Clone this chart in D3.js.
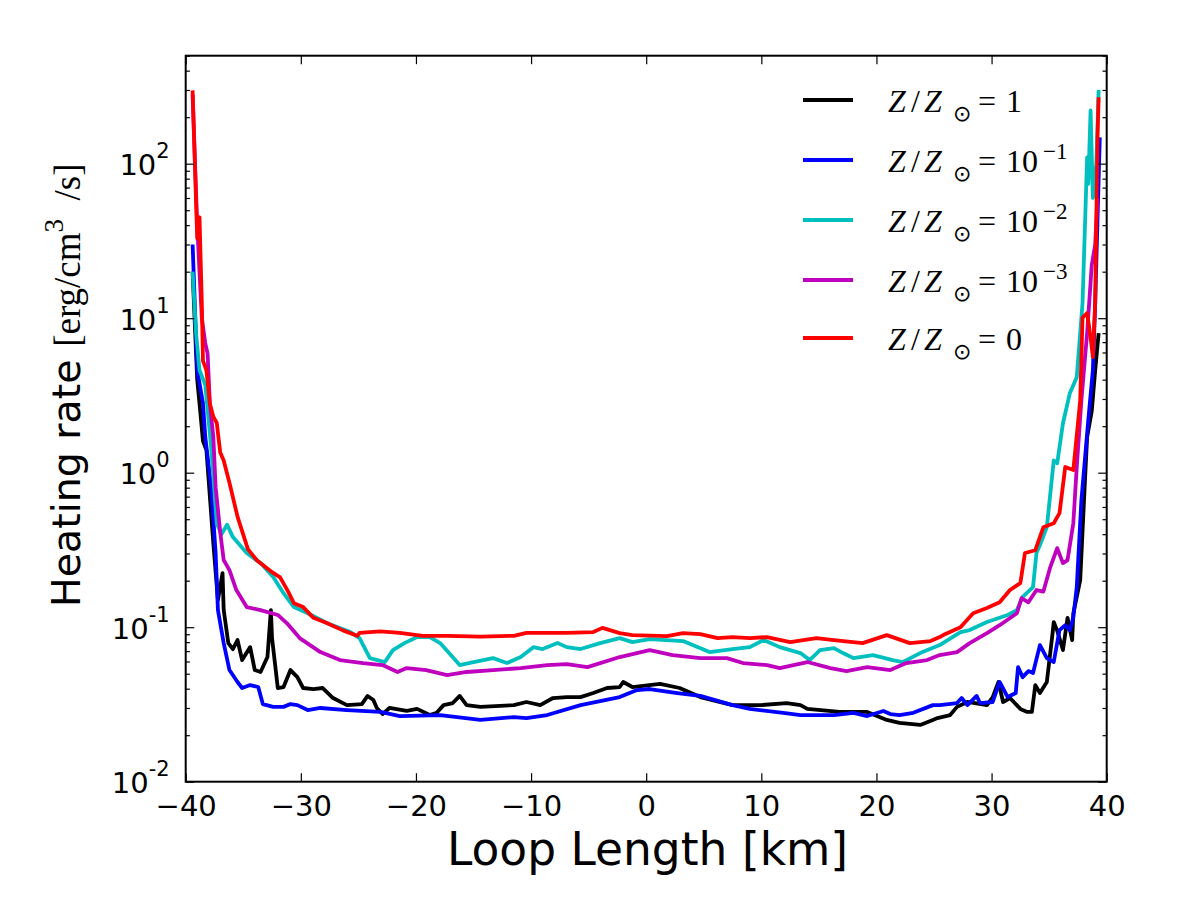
<!DOCTYPE html>
<html>
<head>
<meta charset="utf-8">
<script src="https://cdn.jsdelivr.net/npm/d3@7"></script>
<style>
  html, body { margin: 0; padding: 0; background: #fff; }
  svg { display: block; }
</style>
</head>
<body>
<div id="chart"></div>
<script>
// Heating rate along the loop, one series per metallicity.

const blackZ1 = [
  [-39.4, 20], [-39.0, 4], [-38.8, 2.8], [-38.5, 1.6], [-38.2, 1.4], [-37.6, 0.35], [-37.2, 0.15],
  [-36.8, 0.224], [-36.7, 0.129], [-36.3, 0.0789], [-35.9, 0.0721], [-35.5, 0.0826], [-35.1, 0.0613],
  [-34.4, 0.0743], [-34.0, 0.0528], [-33.5, 0.0513], [-32.9, 0.0641], [-32.6, 0.129], [-32.5, 0.085],
  [-32.0, 0.0404], [-31.5, 0.041], [-30.9, 0.0528], [-30.3, 0.0475], [-29.8, 0.0404], [-28.9, 0.0398],
  [-28.1, 0.0404], [-27.2, 0.0348], [-26.0, 0.0313], [-24.7, 0.0318], [-24.2, 0.0359], [-23.7, 0.0338],
  [-23.4, 0.03], [-22.9, 0.0274], [-22.3, 0.03], [-20.8, 0.0287], [-19.9, 0.0296], [-18.8, 0.027],
  [-18.2, 0.0279], [-17.6, 0.0313], [-16.8, 0.0323], [-16.2, 0.0359], [-15.6, 0.0313], [-14.4, 0.0305],
  [-11.5, 0.0313], [-10.4, 0.0328], [-9.2, 0.0313], [-8.1, 0.0348], [-6.9, 0.0353], [-5.7, 0.0353],
  [-4.6, 0.0375], [-3.4, 0.0404], [-2.3, 0.041], [-2.0, 0.0442], [-1.2, 0.041], [1.2, 0.0429],
  [2.9, 0.0404], [4.7, 0.0353], [7.5, 0.0313], [9.9, 0.0313], [12.2, 0.0323], [13.4, 0.0313],
  [14.0, 0.0296], [16.8, 0.0283], [19.2, 0.0283], [20.9, 0.0251], [22.0, 0.024], [23.8, 0.0233],
  [24.9, 0.0251], [25.3, 0.0258], [26.4, 0.027], [27.0, 0.0305], [27.9, 0.0328], [29.6, 0.0313],
  [30.1, 0.0353], [30.6, 0.0442], [31.0, 0.0328], [31.6, 0.0348], [32.5, 0.0296], [33.1, 0.0283],
  [33.5, 0.0283], [33.8, 0.0422], [34.2, 0.0375], [34.8, 0.0442], [35.3, 0.0916], [35.4, 0.108],
  [35.7, 0.095], [36.2, 0.0711], [36.6, 0.115], [37.0, 0.0826], [37.1, 0.123], [37.4, 0.157],
  [37.7, 0.202], [38.1, 0.855], [38.3, 1.7], [38.7, 2.5], [39.0, 4.6], [39.3, 8]
];

const blueZ1e1 = [
  [-39.4, 30], [-39.0, 4.6], [-38.5, 2.82], [-38.3, 1.7], [-37.8, 0.83], [-37.4, 0.302], [-37.2, 0.129],
  [-36.7, 0.0789], [-36.2, 0.0528], [-35.5, 0.0442], [-35.1, 0.0404], [-34.4, 0.0422], [-33.7, 0.041],
  [-33.3, 0.0318], [-32.4, 0.0305], [-31.5, 0.0305], [-30.9, 0.0318], [-30.3, 0.0313], [-29.4, 0.0291],
  [-28.3, 0.03], [-26.0, 0.0291], [-23.1, 0.0283], [-21.4, 0.0266], [-17.9, 0.027], [-14.4, 0.0251],
  [-11.5, 0.0262], [-10.4, 0.0258], [-8.6, 0.027], [-5.7, 0.0313], [-2.3, 0.0353], [-0.8, 0.0392],
  [0.3, 0.0398], [2.7, 0.0375], [4.7, 0.0359], [7.5, 0.0313], [9.0, 0.0296], [11.9, 0.0279],
  [13.4, 0.027], [16.3, 0.027], [18.0, 0.0279], [19.2, 0.0266], [20.6, 0.0287], [21.2, 0.0274],
  [22.0, 0.027], [23.2, 0.0279], [24.9, 0.0313], [25.5, 0.0313], [27.0, 0.0323], [27.4, 0.0348],
  [27.9, 0.0313], [28.7, 0.0359], [29.0, 0.0323], [30.1, 0.0328], [30.7, 0.0442], [31.4, 0.0353],
  [32.1, 0.0375], [32.3, 0.0552], [32.7, 0.0475], [33.2, 0.052], [33.6, 0.0505], [34.2, 0.0766],
  [34.8, 0.0631], [35.4, 0.0595], [35.9, 0.0958], [36.4, 0.103], [36.8, 0.0958], [37.1, 0.116],
  [37.4, 0.182], [37.8, 0.66], [38.4, 2.19], [38.8, 4.6], [39.0, 12.5], [39.4, 148]
];

const cyanZ1e2 = [
  [-39.4, 20], [-39.1, 8], [-38.8, 4.6], [-38.3, 3.7], [-37.8, 1.5], [-37.3, 0.47], [-36.9, 0.4],
  [-36.4, 0.46], [-35.9, 0.383], [-34.7, 0.302], [-33.5, 0.26], [-32.4, 0.211], [-31.5, 0.166],
  [-30.6, 0.135], [-29.4, 0.123], [-27.7, 0.106], [-25.7, 0.093], [-24.9, 0.085], [-24.0, 0.063],
  [-22.7, 0.0595], [-22.0, 0.0711], [-21.0, 0.0789], [-19.9, 0.0863], [-18.8, 0.0863], [-17.9, 0.0789],
  [-16.2, 0.0569], [-15.0, 0.0595], [-13.3, 0.0631], [-12.1, 0.0586], [-10.9, 0.0641], [-9.8, 0.0743],
  [-9.0, 0.0722], [-7.7, 0.0789], [-6.9, 0.0743], [-5.7, 0.0722], [-4.0, 0.0789], [-2.3, 0.085],
  [-1.2, 0.0801], [0.3, 0.0837], [3.2, 0.0813], [5.5, 0.069], [7.5, 0.0722], [9.0, 0.0743],
  [10.2, 0.0826], [11.6, 0.0743], [13.4, 0.068], [14.2, 0.0613], [15.1, 0.0711], [16.3, 0.0732],
  [17.1, 0.068], [18.0, 0.0631], [19.7, 0.066], [21.4, 0.0613], [22.3, 0.0595], [23.8, 0.068],
  [25.5, 0.0766], [27.3, 0.093], [28.1, 0.0958], [29.6, 0.108], [31.4, 0.12], [32.2, 0.129],
  [32.7, 0.157], [33.6, 0.182], [33.9, 0.302], [34.2, 0.34], [34.8, 0.444], [35.4, 1.2],
  [35.7, 1.15], [35.9, 1.46], [36.2, 2.09], [36.8, 3.27], [37.4, 4.15], [37.9, 12.5], [38.3, 110],
  [38.4, 74], [38.6, 221], [38.8, 60], [39.1, 100], [39.3, 300]
];

const magentaZ1e3 = [
  [-39.4, 280], [-39.0, 40], [-38.6, 10], [-38.3, 6.9], [-38.1, 5.9], [-37.9, 2.8], [-37.6, 1.7],
  [-37.4, 0.806], [-37.0, 0.41], [-36.7, 0.272], [-36.2, 0.234], [-35.6, 0.174], [-34.7, 0.135],
  [-33.5, 0.129], [-32.0, 0.12], [-31.2, 0.106], [-30.1, 0.085], [-28.3, 0.069], [-26.6, 0.0613],
  [-24.6, 0.0586], [-22.9, 0.0569], [-21.6, 0.0513], [-20.8, 0.0544], [-19.1, 0.0528], [-17.3, 0.049],
  [-15.6, 0.0513], [-13.3, 0.0528], [-10.9, 0.0544], [-8.6, 0.0569], [-6.9, 0.0577], [-5.1, 0.0552],
  [-2.3, 0.0641], [0.3, 0.0711], [2.3, 0.066], [4.7, 0.0631], [7.0, 0.0631], [8.4, 0.0586],
  [10.5, 0.0569], [11.6, 0.0544], [14.0, 0.0595], [16.0, 0.0544], [17.4, 0.052], [19.2, 0.0552],
  [21.2, 0.0528], [22.6, 0.0586], [24.4, 0.0613], [25.5, 0.066], [27.0, 0.069], [28.1, 0.0789],
  [29.6, 0.0916], [30.7, 0.103], [32.2, 0.123], [32.6, 0.154], [33.2, 0.145], [33.9, 0.174],
  [34.5, 0.17], [35.1, 0.245], [35.7, 0.325], [36.2, 0.26], [36.6, 0.272], [37.1, 0.471],
  [37.4, 1.09], [37.8, 2.94], [38.3, 8], [38.7, 22], [39.0, 30], [39.2, 60]
];

const redZ0 = [
  [-39.4, 298], [-39.0, 33], [-38.8, 45], [-38.6, 12.5], [-38.5, 5.3], [-38.2, 4.6], [-37.9, 2.8],
  [-37.6, 2.3], [-37.3, 2.1], [-37.0, 1.35], [-36.7, 1.2], [-36.2, 0.86], [-35.5, 0.52], [-34.6, 0.32],
  [-33.8, 0.27], [-32.6, 0.23], [-31.8, 0.21], [-31.1, 0.17], [-30.6, 0.143], [-29.8, 0.135],
  [-28.9, 0.115], [-27.7, 0.106], [-26.3, 0.095], [-25.1, 0.088], [-24.9, 0.092], [-23.1, 0.094],
  [-21.4, 0.092], [-19.4, 0.088], [-17.3, 0.088], [-14.4, 0.087], [-11.5, 0.088], [-10.4, 0.092],
  [-6.9, 0.092], [-4.6, 0.093], [-3.8, 0.099], [-2.3, 0.0916], [-1.2, 0.0889], [1.8, 0.0876],
  [3.2, 0.0916], [4.7, 0.0902], [6.2, 0.085], [7.5, 0.0863], [9.0, 0.085], [10.5, 0.0863],
  [12.5, 0.0801], [14.8, 0.085], [16.3, 0.0826], [18.8, 0.0789], [20.9, 0.0889], [22.9, 0.0789],
  [24.7, 0.0813], [25.5, 0.0863], [25.8, 0.0889], [27.3, 0.1], [28.4, 0.123], [29.6, 0.133],
  [30.7, 0.145], [31.6, 0.174], [32.5, 0.193], [32.9, 0.302], [33.8, 0.315], [34.5, 0.444],
  [35.4, 0.471], [35.9, 0.547], [36.4, 1.09], [37.1, 1.04], [37.7, 2.94], [37.9, 10.1],
  [38.3, 10.8], [38.6, 7.5], [38.8, 5.6], [39.0, 12.5], [39.2, 148], [39.3, 269]
];

const seriesBase = ["1", "10", "10", "10", "0"];
const seriesExp = [null, "\u22121", "\u22122", "\u22123", null];
const seriesColors = ["#000000", "#0000ff", "#00bfbf", "#bf00bf", "#ff0000"];
const seriesData = [blackZ1, blueZ1e1, cyanZ1e2, magentaZ1e3, redZ0];

const xTicks = [-40, -30, -20, -10, 0, 10, 20, 30, 40];
const yMajor = [1e-2, 1e-1, 1e0, 1e1, 1e2];
const yExp = ["-2", "-1", "0", "1", "2"];
const yMinor = [];
for (let k = -2; k <= 2; k++) for (let m = 2; m <= 9; m++) { const v = m * Math.pow(10, k); if (v <= 500) yMinor.push(v); }

const W = 1200, H = 900;
const L = 185.7, R = 1106.7, T = 55.7, B = 781.7;

const svg = d3.select("#chart").append("svg").attr("width", W).attr("height", H);

const x = d3.scaleLinear().domain([-40, 40]).range([L, R]);
const y = d3.scaleLog().domain([0.01, 500]).range([B, T]);

svg.append("defs").append("clipPath").attr("id", "plotclip")
  .append("rect").attr("x", L).attr("y", T).attr("width", R - L).attr("height", B - T);

// lines
const line = d3.line().x(d => x(d[0])).y(d => y(d[1]));
const gLines = svg.append("g").attr("clip-path", "url(#plotclip)");
seriesData.forEach((s, i) => {
  gLines.append("path").datum(s)
    .attr("d", line)
    .attr("fill", "none")
    .attr("stroke", seriesColors[i])
    .attr("stroke-width", 3.8)
    .attr("stroke-linejoin", "round");
});

// axes: ticks point inward, mirrored on top and right
const tickFont = "'DejaVu Sans', sans-serif";
function styleAxis(g) {
  g.select(".domain").remove();
  g.selectAll(".tick line").attr("stroke", "#000").attr("stroke-width", 1.2);
  g.selectAll("text").attr("font-family", tickFont).attr("font-size", 29).attr("fill", "#000");
}

svg.append("g").attr("transform", `translate(0,${B})`)
  .call(d3.axisBottom(x).tickValues(xTicks).tickSize(-8.5).tickPadding(14))
  .call(styleAxis);
svg.append("g").attr("transform", `translate(0,${T})`)
  .call(d3.axisTop(x).tickValues(xTicks).tickSize(-8.5).tickFormat(() => ""))
  .call(styleAxis);

const yAxisG = svg.append("g").attr("transform", `translate(${L},0)`)
  .call(d3.axisLeft(y).tickValues(yMajor).tickSize(-8.5).tickPadding(16).tickFormat(() => ""))
  .call(styleAxis);
yAxisG.selectAll(".tick text").each(function (d, i) {
  const t = d3.select(this).attr("dy", null).attr("y", 11);
  t.append("tspan").text("10");
  t.append("tspan").attr("font-size", 21).attr("dy", -17).text(yExp[i]);
});
svg.append("g").attr("transform", `translate(${L},0)`)
  .call(d3.axisLeft(y).tickValues(yMinor).tickSize(-4.2).tickFormat(() => ""))
  .call(styleAxis);
svg.append("g").attr("transform", `translate(${R},0)`)
  .call(d3.axisRight(y).tickValues(yMajor).tickSize(-8.5).tickFormat(() => ""))
  .call(styleAxis);
svg.append("g").attr("transform", `translate(${R},0)`)
  .call(d3.axisRight(y).tickValues(yMinor).tickSize(-4.2).tickFormat(() => ""))
  .call(styleAxis);

// frame
svg.append("rect").attr("x", L).attr("y", T).attr("width", R - L).attr("height", B - T)
  .attr("fill", "none").attr("stroke", "#000").attr("stroke-width", 2);

// axis labels
svg.append("text")
  .attr("x", 647.5).attr("y", 865)
  .attr("text-anchor", "middle")
  .attr("font-family", tickFont).attr("font-size", 45.5)
  .text("Loop Length [km]");

const serif = "'Liberation Serif', 'DejaVu Serif', serif";
const yl = svg.append("text")
  .attr("transform", "translate(80,607) rotate(-90)")
  .attr("font-family", tickFont).attr("font-size", 39.5);
yl.append("tspan").text("Heating rate ");
yl.append("tspan").attr("font-family", serif).attr("font-size", 37).text("[erg/cm");
yl.append("tspan").attr("font-family", serif).attr("font-size", 27).attr("dy", -17).text("3");
yl.append("tspan").attr("font-family", serif).attr("font-size", 37).attr("dy", 17).text("\u2002/s]");

// legend (no frame)
const legY = [100, 160, 220, 280, 338];
const leg = svg.append("g").attr("font-family", serif).attr("fill", "#000");
seriesData.forEach((s, i) => {
  const ly = legY[i];
  leg.append("line")
    .attr("x1", 803).attr("x2", 853).attr("y1", ly).attr("y2", ly)
    .attr("stroke", seriesColors[i]).attr("stroke-width", 3.8);
  const t = leg.append("text").attr("y", ly + 12).attr("font-size", 32);
  t.append("tspan").attr("x", 888).attr("font-style", "italic").text("Z");
  t.append("tspan").attr("x", 911).text("/");
  t.append("tspan").attr("x", 924).attr("font-style", "italic").text("Z");
  t.append("tspan").attr("x", 953).attr("y", ly + 21)
    .attr("font-family", "'DejaVu Sans', sans-serif").attr("font-size", 22).text("\u2299");
  t.append("tspan").attr("x", 978).attr("y", ly + 12).text("=");
  t.append("tspan").attr("x", 1006).text(seriesBase[i]);
  if (seriesExp[i]) {
    t.append("tspan").attr("x", 1043).attr("y", ly - 1).attr("font-size", 23).text(seriesExp[i]);
  }
});
</script>
</body>
</html>
